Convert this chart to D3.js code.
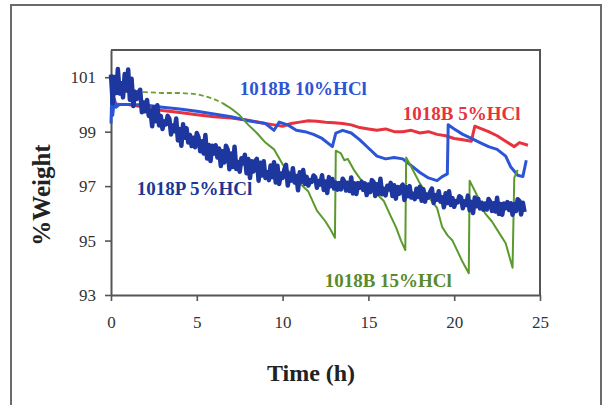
<!DOCTYPE html>
<html>
<head>
<meta charset="utf-8">
<script src="https://cdn.jsdelivr.net/npm/d3@7/dist/d3.min.js"></script>
<style>
  html, body { margin: 0; padding: 0; background: #fff; }
  svg { display: block; }
</style>
</head>
<body>
<svg id="chart" width="605" height="405"></svg>
<script>
// Weight retention (%) of steel coupons during HCl immersion, over time (h)

const xTicks = [0, 5, 10, 15, 20, 25];
const yTicks = [93, 95, 97, 99, 101];

// 1018B in 5% HCl  [time h, % weight]
const b5 = [[0,100.05],[0.5,100.0],[1,100.0],[2,99.9],[3,99.78],[4,99.7],[5,99.62],[6,99.55],[7,99.5],
  [8,99.42],[9,99.3],[9.5,99.25],[10,99.2],[10.5,99.3],[11,99.35],[11.5,99.4],[12,99.38],[12.5,99.35],
  [13,99.33],[13.5,99.3],[14,99.25],[14.5,99.15],[15,99.1],[15.5,99.05],[16,99.1],[16.5,99.0],[17,99.0],
  [17.5,99.05],[18,98.95],[18.5,99.0],[19,98.9],[19.5,98.85],[20,98.75],[20.5,98.7],[21,98.65],
  [21.2,99.2],[21.6,99.1],[22,99.0],[22.5,98.85],[23,98.65],[23.5,98.45],[23.8,98.6],[24.3,98.5]];

// 1018B in 10% HCl
const b10 = [[0,99.3],[0.05,100.5],[0.1,99.6],[0.2,100.2],[0.3,99.9],[0.5,100.0],[1,100.0],[2,99.98],
  [3,99.9],[4,99.83],[5,99.75],[6,99.65],[7,99.55],[8,99.4],[9,99.3],[9.5,99.05],[9.8,99.35],[10.3,99.25],
  [10.8,99.05],[11.3,99.0],[11.8,98.9],[12.3,98.75],[12.9,98.45],[13.1,98.95],[13.5,99.05],[14,98.95],
  [14.5,98.7],[15,98.4],[15.5,98.1],[16,98.0],[16.5,98.05],[17,98.0],[17.5,97.75],[18,97.5],[18.5,97.3],
  [19,97.2],[19.3,97.35],[19.6,97.45],[19.65,99.25],[20,99.1],[20.5,98.9],[21,98.75],[21.5,98.6],
  [22,98.45],[22.5,98.35],[23,98.1],[23.3,97.7],[23.7,97.4],[24,97.35],[24.2,97.95]];

// 1018B in 15% HCl (weight drops, then jumps back at each re-weighing)
const b15 = [[0,100.5],[0.5,100.45],[1,100.45],[2,100.45],[3,100.42],[4,100.42],[5,100.38],[5.5,100.3],
  [6,100.2],[6.5,100.05],[7,99.85],[7.5,99.6],[8,99.25],[8.5,98.95],[9,98.6],[9.5,98.35],[10,97.8],
  [10.5,97.45],[11,97.1],[11.5,96.8],[12,96.1],[12.5,95.7],[12.8,95.4],[13.05,95.1],[13.1,98.3],
  [13.4,98.2],[13.6,97.95],[13.8,98.0],[14.2,97.55],[14.6,97.2],[15,96.9],[15.5,96.7],[15.9,96.45],
  [16.3,95.9],[16.6,95.5],[16.9,95.0],[17.15,94.65],[17.2,98.05],[17.5,97.7],[18,97.1],[18.5,96.6],
  [19,96.2],[19.3,95.5],[19.6,95.2],[19.9,95.0],[20.2,94.6],[20.5,94.2],[20.85,93.8],[20.9,97.2],
  [21.3,96.7],[21.8,96.0],[22.2,95.7],[22.6,95.3],[23,94.9],[23.4,94.0],[23.5,97.3],[23.7,97.6]];

// 1018P in 5% HCl, sampled every 0.1 h (noisy balance signal)
const p5Step = 0.1;
const p5 = [
  101.10,100.04,101.01,100.42,101.30,100.40,100.78,100.26,101.12,100.51,
  101.28,100.17,100.94,99.94,100.47,100.20,100.44,100.54,99.71,100.07,
  99.75,100.16,99.58,99.77,99.20,99.90,99.38,99.97,99.23,99.58,
  99.10,99.38,99.27,99.58,99.48,98.90,99.23,99.02,99.48,98.68,
  99.10,98.48,99.27,98.78,99.13,98.60,98.88,98.47,98.78,98.43,
  98.95,98.79,98.28,98.65,98.20,98.88,98.01,98.51,97.92,98.48,
  98.20,98.50,98.05,98.38,97.74,98.28,97.87,98.48,98.35,97.62,
  98.20,97.70,98.45,97.63,97.89,97.53,98.02,97.83,98.15,97.47,
  98.00,97.30,97.91,97.54,97.91,98.00,97.20,97.86,97.39,97.91,
  97.30,97.51,97.22,97.76,97.33,97.88,97.13,97.75,97.08,97.46,
  97.30,97.61,97.78,97.02,97.45,97.20,97.66,97.13,97.37,96.85,
  97.51,97.16,97.59,97.08,97.34,97.02,97.22,97.16,97.39,97.33,
  96.94,97.19,97.06,97.40,96.86,97.17,96.75,97.33,97.00,97.26,
  96.91,97.13,96.87,97.11,96.88,97.27,97.17,96.84,97.12,96.82,
  97.32,96.73,97.10,96.71,97.11,96.94,97.16,96.86,97.10,96.67,
  97.06,96.78,97.22,97.15,96.64,97.07,96.72,97.27,96.70,96.90,
  96.66,97.01,96.88,97.12,96.64,97.03,96.54,96.97,96.72,96.98,
  97.05,96.49,96.96,96.63,97.00,96.58,96.72,96.52,96.90,96.60,
  96.98,96.46,96.89,96.43,96.69,96.58,96.79,96.91,96.38,96.67,
  96.50,96.81,96.43,96.59,96.22,96.74,96.38,96.81,96.31,96.56,
  96.24,96.45,96.40,96.63,96.58,96.19,96.44,96.31,96.65,96.11,
  96.42,96.01,96.58,96.26,96.53,96.18,96.39,96.13,96.36,96.14,
  96.53,96.43,96.09,96.37,96.07,96.57,95.98,96.34,95.95,96.36,
  96.19,96.41,96.12,96.37,95.95,96.34,96.08,96.52,96.45,95.96,
  96.39,96.05];

const svg = d3.select("#chart");

// outer frame
svg.append("rect")
  .attr("x", 11).attr("y", 5).attr("width", 590).attr("height", 410)
  .attr("fill", "none").attr("stroke", "#6a6a6a").attr("stroke-width", 2);

const x = d3.scaleLinear().domain([0, 25]).range([111, 540]);
const y = d3.scaleLinear().domain([93, 102]).range([295, 50]);

// plot box (top and right edges)
svg.append("path")
  .attr("d", `M${x(0)},${y(102)}H${x(25)}V${y(93)}`)
  .attr("fill", "none").attr("stroke", "#555").attr("stroke-width", 2);

const serif = "'Liberation Serif', 'Times New Roman', serif";

const xAxis = svg.append("g")
  .attr("transform", `translate(0,${y(93)})`)
  .call(d3.axisBottom(x).tickValues(xTicks).tickSize(6).tickSizeOuter(0).tickPadding(15));
const yAxis = svg.append("g")
  .attr("transform", `translate(${x(0)},0)`)
  .call(d3.axisLeft(y).tickValues(yTicks).tickSize(6).tickSizeOuter(0).tickPadding(9));

[xAxis, yAxis].forEach(g => {
  g.select(".domain").attr("stroke", "#555").attr("stroke-width", 2);
  g.selectAll(".tick line").attr("stroke", "#555").attr("stroke-width", 1.6);
  g.selectAll(".tick text")
    .attr("font-family", serif).attr("font-size", 17).attr("fill", "#333");
});

const line = d3.line().x(d => x(d[0])).y(d => y(d[1]));

const plot = svg.append("g");

plot.append("path").datum(b5).attr("d", line)
  .attr("fill", "none").attr("stroke", "#e8323e").attr("stroke-width", 3)
  .attr("stroke-linejoin", "round");

plot.append("path").datum(b10).attr("d", line)
  .attr("fill", "none").attr("stroke", "#2b55d6").attr("stroke-width", 3)
  .attr("stroke-linejoin", "round");

// 15% HCl: sparse samples early on read as a dashed trace
plot.append("path").datum(b15.filter(d => d[0] <= 6.5)).attr("d", line)
  .attr("fill", "none").attr("stroke", "#6aa030").attr("stroke-width", 1.8)
  .attr("stroke-dasharray", "5,3");
plot.append("path").datum(b15.filter(d => d[0] >= 6.5)).attr("d", line)
  .attr("fill", "none").attr("stroke", "#5a9a2c").attr("stroke-width", 2)
  .attr("stroke-linejoin", "round");

plot.append("path").datum(p5.map((v, i) => [i * p5Step, v])).attr("d", line)
  .attr("fill", "none").attr("stroke", "#1d379e").attr("stroke-width", 4.5)
  .attr("stroke-linejoin", "round");

// series labels
const labels = [
  { text: "1018B 10%HCl", t: 7.5, v: 100.35, color: "#2b55d6" },
  { text: "1018B 5%HCl",  t: 17.0, v: 99.43, color: "#e8323e" },
  { text: "1018P 5%HCl",  t: 1.5, v: 96.68, color: "#1e3694" },
  { text: "1018B 15%HCl", t: 12.45, v: 93.3, color: "#5a8a2c" }
];
svg.append("g").selectAll("text").data(labels).join("text")
  .attr("x", d => x(d.t)).attr("y", d => y(d.v))
  .attr("font-family", serif).attr("font-weight", "bold").attr("font-size", 19)
  .attr("fill", d => d.color)
  .text(d => d.text);

// axis titles
svg.append("text")
  .attr("x", 311).attr("y", 381).attr("text-anchor", "middle")
  .attr("font-family", serif).attr("font-weight", "bold").attr("font-size", 24).attr("fill", "#222")
  .text("Time (h)");
svg.append("text")
  .attr("transform", `translate(50,195) rotate(-90)`)
  .attr("text-anchor", "middle")
  .attr("font-family", serif).attr("font-weight", "bold").attr("font-size", 25).attr("fill", "#222")
  .text("%Weight");
</script>
</body>
</html>
